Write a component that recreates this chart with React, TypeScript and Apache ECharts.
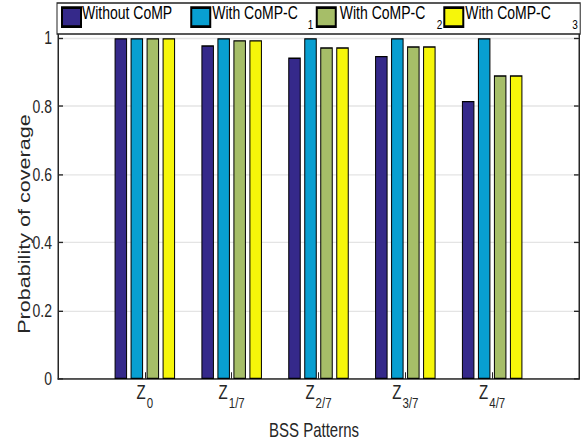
import React, { useEffect, useRef } from "react";
import * as echarts from "echarts";

// Category subscripts for the BSS patterns Z_x
const categories = ["0", "1/7", "2/7", "3/7", "4/7"];
const seriesNames = ["Without CoMP", "With CoMP-C 1", "With CoMP-C 2", "With CoMP-C 3"];
const withoutCoMP = [1.0, 0.979, 0.943, 0.948, 0.816];
const withCoMPC1 = [1.0, 1.0, 1.0, 1.0, 1.0];
const withCoMPC2 = [1.0, 0.994, 0.973, 0.976, 0.891];
const withCoMPC3 = [1.0, 0.994, 0.973, 0.976, 0.891];
const colors = ["#35298A", "#089FD1", "#A6BE68", "#F6F60A"];
const yMin = 0;
const yMax = 1.1;
const yInterval = 0.2;

const FONT = "'Liberation Sans', Arial, Helvetica, sans-serif";
const W = 585;
const H = 443;
const H0 = 328; // un-stretched height; the reference is stretched vertically
const S = H / H0;

export default function App() {
  const ref = useRef<HTMLDivElement>(null);
  useEffect(() => {
    if (!ref.current) return;
    const chart = echarts.init(ref.current, null, { renderer: "svg" });
    const axisCats = ["", ...categories, ""];
    const pad = (arr: number[]) => [null, ...arr, null];
    const allData = [withoutCoMP, withCoMPC1, withCoMPC2, withCoMPC3];
    const textColor = "#262626";
    chart.setOption({
      animation: false,
      textStyle: { fontFamily: FONT },
      grid: {
        left: 58,
        right: 6,
        top: 3,
        bottom: H0 - 280.7,
        containLabel: false,
        outerBoundsMode: "none",
        show: true,
        borderColor: textColor,
        borderWidth: 1,
        backgroundColor: "#fff",
      },
      legend: {
        left: 57,
        top: 2.2,
        orient: "horizontal",
        icon: "rect",
        itemGap: 0,
        itemWidth: 19,
        itemHeight: 14,
        padding: [0, 2.4, 2, 4],
        borderColor: "#222",
        borderWidth: 1,
        backgroundColor: "#fff",
        data: seriesNames,
        formatter: (name: string) => {
          const i = seriesNames.indexOf(name);
          if (i === 0) return `{a0|${name}}`;
          const k = name.lastIndexOf(" ");
          return `{a${i}|${name.slice(0, k)}}{s${i}|${name.slice(k + 1)}}`;
        },
        textStyle: {
          fontFamily: FONT,
          color: "#000",
          rich: {
            a0: { fontSize: 14, lineHeight: 14, padding: [0, 18, 7, -4], fontFamily: FONT, color: "#000" },
            a1: { fontSize: 14, lineHeight: 14, padding: [0, 0, 7, -3], fontFamily: FONT, color: "#000" },
            a2: { fontSize: 14, lineHeight: 14, padding: [0, 0, 7, -1], fontFamily: FONT, color: "#000" },
            a3: { fontSize: 14, lineHeight: 14, padding: [0, 0, 7, -3], fontFamily: FONT, color: "#000" },
            s1: { fontSize: 10, lineHeight: 10, padding: [11, 2.4, 0, 10], fontFamily: FONT, color: "#000" },
            s2: { fontSize: 10, lineHeight: 10, padding: [11, 1, 0, 11.4], fontFamily: FONT, color: "#000" },
            s3: { fontSize: 10, lineHeight: 10, padding: [11, 0, 0, 21.4], fontFamily: FONT, color: "#000" },
          },
        },
      },
      xAxis: [
        {
          type: "category",
          data: axisCats,
          boundaryGap: false,
          name: "BSS Patterns",
          nameLocation: "middle",
          nameGap: 30,
          nameMoveOverlap: false,
          nameTextStyle: { fontSize: 15, color: textColor, fontFamily: FONT, padding: [0, 9, 0, 0] },
          axisLine: { show: true, lineStyle: { color: textColor, width: 1 } },
          axisTick: { show: true, inside: true, length: 5, lineStyle: { color: textColor } },
          splitLine: { show: false },
          axisLabel: {
            margin: 4.5,
            interval: 0,
            formatter: (v: string) => (v ? `{z|Z}{s|${v}}` : ""),
            rich: {
              z: { fontSize: 15, lineHeight: 16, padding: [0, 0, 6, 0], color: textColor, fontFamily: FONT },
              s: { fontSize: 11.5, lineHeight: 12, padding: [10, 0, 0, 1], color: textColor, fontFamily: FONT },
            },
          },
        },
      ],
      yAxis: [
        {
          type: "value",
          min: yMin,
          max: yMax,
          interval: yInterval,
          name: "Probability of coverage",
          nameLocation: "middle",
          nameGap: 25,
          nameMoveOverlap: false,
          nameTextStyle: { fontSize: 16, color: textColor, fontFamily: FONT, padding: [0, 48, 0, 0] },
          axisLine: { show: true, lineStyle: { color: textColor, width: 1 } },
          axisTick: { show: true, inside: true, length: 5, lineStyle: { color: textColor } },
          splitLine: { show: true, lineStyle: { color: "#e4e4e4", width: 1 } },
          axisLabel: { fontSize: 14, color: textColor, margin: 6, showMaxLabel: false, fontFamily: FONT },
        },
        {
          type: "value",
          position: "right",
          min: yMin,
          max: yMax,
          interval: yInterval,
          axisLine: { show: true, lineStyle: { color: textColor, width: 1 } },
          axisTick: { show: true, inside: true, length: 5, lineStyle: { color: textColor } },
          splitLine: { show: false },
          axisLabel: { show: false },
        },
      ],
      series: allData.map((d, i) => ({
        name: seriesNames[i],
        type: "bar",
        data: pad(d),
        barWidth: 12.5,
        barGap: "28%",
        itemStyle: { color: colors[i], borderColor: "#000", borderWidth: 1 },
      })),
    });
    return () => chart.dispose();
  }, []);
  return (
    <div style={{ position: "fixed", left: 0, top: 0, width: W, height: H, overflow: "hidden", background: "#fff" }}>
      <div
        ref={ref}
        style={{ width: W, height: H0, transform: `scaleY(${S})`, transformOrigin: "0 0" }}
      />
    </div>
  );
}
